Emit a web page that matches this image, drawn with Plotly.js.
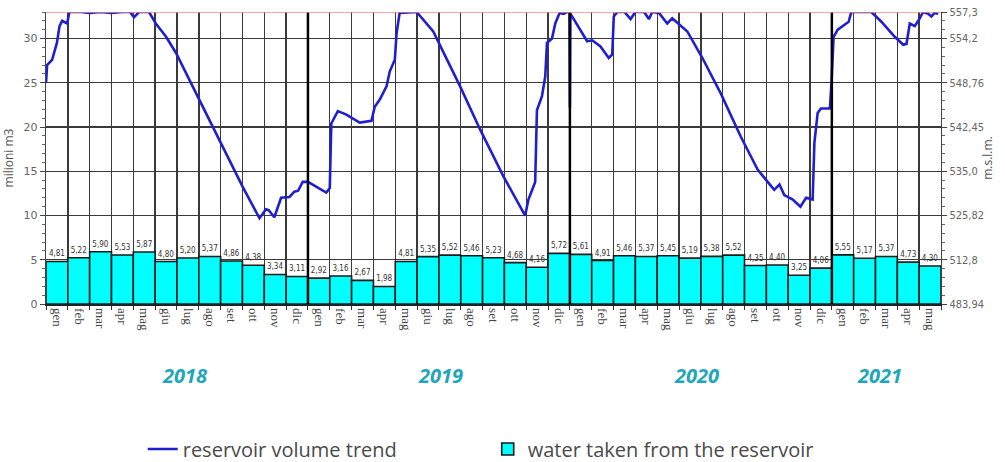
<!DOCTYPE html>
<html>
<head>
<meta charset="utf-8">
<script src="https://cdn.plot.ly/plotly-3.0.1.min.js"></script>
<style>html,body{margin:0;padding:0;background:#fff;}#chart{width:1005px;height:462px;}</style>
</head>
<body>
<div id="chart"></div>
<script>
// Monthly labels (Italian abbreviations), Jan 2018 .. May 2021
const months = ["gen","feb","mar","apr","mag","giu","lug","ago","set","ott","nov","dic",
                "gen","feb","mar","apr","mag","giu","lug","ago","set","ott","nov","dic",
                "gen","feb","mar","apr","mag","giu","lug","ago","set","ott","nov","dic",
                "gen","feb","mar","apr","mag"];
// Water taken from the reservoir (million m3)
const waterTaken = [4.81,5.22,5.90,5.53,5.87,4.80,5.20,5.37,4.86,4.38,3.34,3.11,
                    2.92,3.16,2.67,1.98,4.81,5.35,5.52,5.46,5.23,4.68,4.16,5.72,
                    5.61,4.91,5.46,5.37,5.45,5.19,5.38,5.52,4.35,4.40,3.25,4.06,
                    5.55,5.17,5.37,4.73,4.30];
// Reservoir volume trend: time in months since start of Jan 2018, volume (million m3)
const volumeT = [0.00,0.05,0.28,0.50,0.62,0.74,0.97,1.07,1.60,2.00,2.50,3.00,3.50,3.85,4.03,4.26,4.72,
  5.03,5.50,5.95,7.02,8.01,9.00,9.78,10.08,10.20,10.46,10.77,11.15,11.38,11.55,11.76,12.00,12.84,13.00,
  13.07,13.37,13.76,14.37,14.91,15.06,15.29,15.60,15.75,15.98,16.06,16.20,16.98,17.74,18.97,19.89,20.96,
  21.95,22.10,22.26,22.41,22.49,22.72,22.87,22.95,23.18,23.33,23.53,23.71,23.86,23.98,24.00,24.02,24.10,
  24.48,24.79,25.02,25.40,25.78,25.94,26.01,26.17,26.50,26.78,27.00,27.40,27.62,27.77,28.08,28.46,28.69,
  29.08,29.38,30.07,30.91,31.83,32.60,33.06,33.36,33.60,33.82,34.21,34.56,34.82,35.12,35.20,35.35,35.50,
  35.91,35.99,36.04,36.08,36.27,36.57,36.77,36.89,37.81,38.27,38.88,39.27,39.42,39.57,39.80,40.03,40.18,
  40.41,40.56,40.71,40.87];
const volumeV = [25.0,27.0,27.6,29.5,31.4,32.0,31.7,33.0,33.0,32.9,33.0,32.9,33.0,33.0,32.4,33.0,33.0,
  31.7,30.2,28.4,23.1,18.2,13.3,9.7,10.7,10.6,9.8,12.0,12.1,12.7,12.8,13.8,13.8,12.6,13.1,
  20.4,21.8,21.4,20.5,20.7,22.3,23.1,24.6,26.3,27.6,30.6,32.9,33.0,30.8,24.6,19.7,14.4,
  10.0,11.8,12.9,13.8,21.9,23.5,25.7,29.5,30.0,31.7,32.9,32.8,33.0,33.0,22.2,32.8,32.5,
  31.0,29.7,29.8,29.1,27.8,28.2,32.5,33.0,33.0,32.2,33.0,33.0,32.2,33.0,32.9,31.7,32.3,
  31.4,30.8,27.8,23.8,18.9,15.2,13.8,12.9,13.5,12.3,11.8,11.0,12.0,11.8,18.2,21.6,22.1,
  22.1,25.3,27.6,30.2,31.0,31.6,31.9,33.0,33.0,31.9,30.2,29.3,29.4,31.7,31.4,32.3,33.0,
  32.8,32.5,32.9,32.8];
// Right axis: level in m a.s.l. matching left-axis volume ticks
const volTicks = [0,5,10,15,20,25,30,33];
const levelLabels = ["483,94","512,8","525,82","535,0","542,45","548,76","554,2","557,3"];
const years = ["2018","2019","2020","2021"];
const yearPos = [5.85,17.55,29.3,37.7];
const yearBounds = [11.5,23.5,35.5];
const maxVolume = 33;

const idx = months.map((m,i)=>i);
const lineX = volumeT.map(t=>t-0.5);

const lineTrace = {
  type:'scatter', mode:'lines', x:lineX, y:volumeV, yaxis:'y2',
  name:'reservoir volume trend', line:{color:'#1f1fd0', width:2.6},
  hoverinfo:'skip'
};
const barTrace = {
  type:'bar', x:idx, y:waterTaken, name:'water taken from the reservoir',
  marker:{color:'#00ffff', line:{color:'#1a1a1a', width:1.6}},
  texttemplate:'%{y:.2f}', textposition:'outside', constraintext:'none', cliponaxis:false,
  textfont:{family:'DejaVu Sans Condensed, sans-serif', size:8, color:'#333'},
  hoverinfo:'skip'
};

const shapes = yearBounds.map(b=>({type:'line', xref:'x', yref:'y', x0:b, x1:b, y0:0, y1:maxVolume,
  line:{color:'#000', width:2.5}, layer:'above'}));
shapes.push({type:'line', xref:'paper', yref:'y', x0:0, x1:1, y0:maxVolume, y1:maxVolume,
  line:{color:'#f08a8a', width:1.5}, layer:'above'});

const annotations = years.map((y,i)=>({text:'<b><i>'+y+'</i></b>', xref:'x', yref:'paper',
  x:yearPos[i], y:-0.245, yanchor:'middle', showarrow:false, font:{family:'Open Sans, sans-serif', size:20, color:'#1ea7b8'}}));

const layout = {
  width:1005, height:462,
  margin:{l:46, r:64, t:12, b:158},
  paper_bgcolor:'#fff', plot_bgcolor:'#fff',
  separators:',.',
  bargap:0,
  showlegend:true,
  legend:{orientation:'h', xref:'container', yref:'container', x:0.142, xanchor:'left', y:0.028, yanchor:'middle',
    font:{family:'Open Sans, sans-serif', size:20, color:'#4a4a4a'}, traceorder:'normal', itemwidth:30, entrywidth:300},
  xaxis:{range:[-0.5,40.5], tickvals:idx, ticktext:months, tickangle:90, ticks:'', showgrid:false,
    tickfont:{family:'Liberation Serif, serif', size:13, color:'#444'},
    showline:true, linecolor:'#222', linewidth:1.5, zeroline:false, automargin:false,
    minor:{tick0:-0.5, dtick:1, showgrid:true, gridcolor:'#3a3a3a', gridwidth:1.4, ticks:'outside', ticklen:4, tickcolor:'#333'}},
  yaxis:{range:[0,maxVolume], tickvals:[0,5,10,15,20,25,30], ticks:'outside', ticklen:5, tickcolor:'#444',
    showgrid:true, gridcolor:'#3a3a3a', gridwidth:1.4, zeroline:false, automargin:false,
    showline:true, linecolor:'#444', linewidth:1.2,
    minor:{dtick:1, ticks:'outside', ticklen:3, tickcolor:'#666', showgrid:false},
    tickfont:{family:'DejaVu Sans, sans-serif', size:11, color:'#666'},
    title:{text:'milioni m3', font:{family:'Open Sans, sans-serif', size:12, color:'#555'}, standoff:8}},
  yaxis2:{range:[0,maxVolume], overlaying:'y', side:'right', tickvals:volTicks, ticktext:levelLabels,
    ticks:'outside', ticklen:5, tickcolor:'#444', showgrid:false, zeroline:false, automargin:false,
    showline:true, linecolor:'#444', linewidth:1.2,
    minor:{dtick:1, ticks:'outside', ticklen:3, tickcolor:'#666', showgrid:false},
    tickfont:{family:'DejaVu Sans Condensed, sans-serif', size:11, color:'#666'},
    title:{text:'m.s.l.m.', font:{family:'Open Sans, sans-serif', size:12, color:'#555'}, standoff:0}},
  shapes:shapes,
  annotations:annotations
};

Plotly.newPlot('chart', [lineTrace, barTrace], layout, {staticPlot:true, displayModeBar:false});
</script>
</body>
</html>
